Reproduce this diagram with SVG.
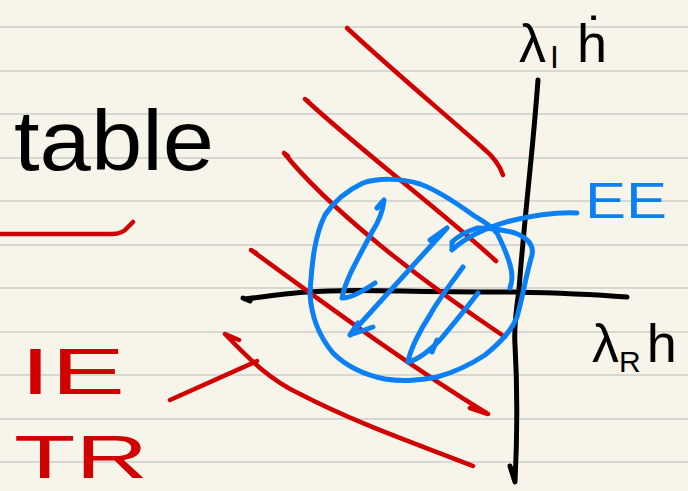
<svg xmlns="http://www.w3.org/2000/svg" width="688" height="491" viewBox="0 0 688 491">
<style>
.rule{stroke:#d7d7d4;stroke-width:2;fill:none}
.red{stroke:#d10000;stroke-width:4.5;fill:none;stroke-linecap:round;stroke-linejoin:round}
.blue{stroke:#0a80f4;stroke-width:5;fill:none;stroke-linecap:round;stroke-linejoin:round}
.blk{stroke:#000;stroke-width:5;fill:none;stroke-linecap:round;stroke-linejoin:round}
.t{font-family:"Liberation Sans","DejaVu Sans",sans-serif}
</style>
<rect width="688" height="491" fill="#f7f5ea"/>
<g id="rules">
<path class="rule" d="M0 27H688M0 71H688M0 114H688M0 158H688M0 201H688M0 245H688M0 288H688M0 332H688M0 375H688M0 419H688M0 462H688"/>
</g>
<g id="axes">
<path class="blk" d="M538 80 C535 120 532 150 530 170 C526 210 521 260 519 290 C516 310 514 330 515 345 C517 380 518 420 515 482 L510 466"/>
<path class="blk" d="M243 298 L250 301 M245 299 C270 296 290 293 307 292 C330 290 360 290 400 291 C450 292 490 292 515 292 C560 293 600 295 627 297"/>
</g>
<g id="red-strokes">
<path class="red" d="M0 234 L112 234 C120 234 124 232 127 228 L133 222 L126 229"/>
<path class="red" d="M347 28 C390 68 440 110 483 148 C495 158 500 166 503 175"/>
<path class="red" d="M308 101 L305 99 C360 150 440 210 496 261"/>
<path class="red" d="M288 156 L284 153 C330 210 420 280 505 337"/>
<path class="red" d="M256 253 L251 250 C320 300 400 360 488 414 L470 408"/>
<path class="red" d="M239 340 L225 334 C250 360 270 380 300 394 C360 425 420 445 473 466"/>
<path class="red" d="M170 400 L257 361"/>
</g>
<g id="blue-strokes">
<path class="blue" d="M510 288 C514 278 513 265 497 233 C487 222 480 220 473 215 C455 202 437 190 420 184 C400 178 378 178 363 183 C348 190 335 200 325 215 C315 235 312 260 310 293 C311 315 318 335 333 353 C345 365 360 374 385 379 C405 382 420 380 437 377 C455 372 470 365 485 355 C500 343 512 330 517 317 C522 300 526 275 532 255 C534 245 528 238 515 233 C500 229 485 228 477 228 C465 232 456 238 452 242 L452 249"/>
<path class="blue" d="M452 250 C465 238 485 228 510 221 C535 215 555 212 577 213"/>
<path class="blue" d="M377 208 L384 200 C383 210 380 220 372 232 C360 255 345 280 342 298 C350 298 362 292 375 283"/>
<path class="blue" d="M447 228 L350 335 M447 228 L430 240 M350 335 L373 327 M350 335 L358 323"/>
<path class="blue" d="M463 267 C450 285 438 300 430 315 C420 330 410 350 408 362 C418 360 428 352 440 340 C450 328 465 310 478 293 M432 352 L437 340"/>
<text class="t" x="585" y="218" font-size="50" fill="#0a80f4" textLength="82" lengthAdjust="spacingAndGlyphs">EE</text>
</g>
<g id="labels">
<text class="t" x="14" y="170" font-size="86" fill="#000" textLength="200" lengthAdjust="spacingAndGlyphs">table</text>
<text class="t" x="20" y="394" font-size="64" fill="#d10000" textLength="105" lengthAdjust="spacingAndGlyphs">IE</text>
<text class="t" x="14" y="478" font-size="62" fill="#d10000" textLength="134" lengthAdjust="spacingAndGlyphs">TR</text>
<text class="t" x="519" y="62" font-size="54" fill="#000">λ<tspan font-size="32" dy="6" dx="4">I</tspan><tspan dy="-6" dx="18">ḣ</tspan></text>
<text class="t" x="592" y="362" font-size="54" fill="#000">λ<tspan font-size="30" dy="10">R</tspan><tspan dy="-10" dx="6">h</tspan></text>
</g>
</svg>
